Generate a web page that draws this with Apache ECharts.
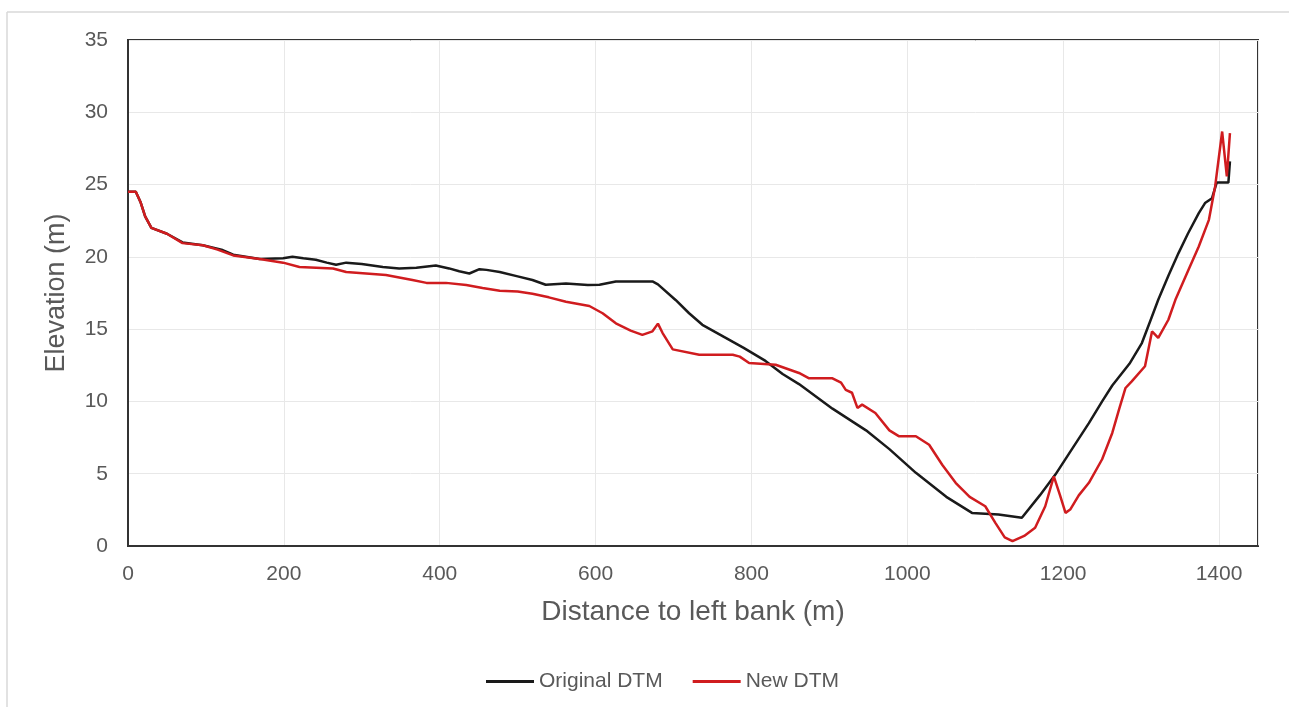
<!DOCTYPE html>
<html>
<head>
<meta charset="utf-8">
<script src="https://cdn.jsdelivr.net/npm/echarts@6/dist/echarts.min.js"></script>
<style>
  html, body { margin: 0; padding: 0; background: #ffffff; }
  #chart { width: 1289px; height: 707px; }
</style>
</head>
<body>
<div id="chart"></div>
<script>
// Cross-section profile: distance to left bank (m) vs elevation (m)
const seriesNames = ['Original DTM', 'New DTM'];

const originalDTM = [
  [0,24.5],[10,24.5],[16,23.8],[22,22.8],[30,22.0],[50,21.6],[70,21.0],[96,20.8],[120,20.5],[135,20.15],
  [169,19.85],[199,19.9],[211,20.0],[225,19.9],[241,19.8],[255,19.6],[267,19.45],[280,19.6],[300,19.5],
  [327,19.3],[348,19.2],[370,19.25],[395,19.4],[412,19.2],[425,19.0],[438,18.85],[451,19.15],[460,19.1],
  [477,18.95],[500,18.65],[519,18.4],[536,18.07],[562,18.15],[590,18.05],[605,18.07],[626,18.3],[650,18.3],
  [673,18.3],[680,18.1],[703,17.0],[720,16.1],[737,15.3],[767,14.4],[790,13.7],[818,12.8],[840,11.9],
  [861,11.2],[904,9.5],[947,8.0],[977,6.7],[1011,5.06],[1050,3.4],[1083,2.29],[1117,2.18],[1147,1.95],
  [1170,3.5],[1190,4.94],[1210,6.6],[1233,8.5],[1250,10.0],[1263,11.1],[1285,12.6],[1301,14.04],
  [1312,15.6],[1322,17.03],[1335,18.7],[1348,20.26],[1360,21.6],[1374,23.03],[1382,23.72],[1391,24.06],
  [1397,25.14],[1412,25.14],[1414,26.6]
];

const newDTM = [
  [0,24.5],[10,24.5],[16,23.8],[22,22.8],[30,22.0],[50,21.6],[70,20.95],[96,20.8],[115,20.5],[135,20.1],
  [169,19.85],[199,19.6],[220,19.3],[263,19.2],[280,18.95],[331,18.75],[365,18.4],[383,18.2],[408,18.2],
  [434,18.05],[455,17.85],[477,17.65],[500,17.6],[519,17.45],[540,17.2],[562,16.9],[592,16.6],[609,16.1],
  [626,15.4],[645,14.9],[660,14.6],[673,14.85],[680,15.38],[686,14.73],[699,13.6],[733,13.23],[776,13.23],
  [785,13.1],[797,12.66],[831,12.54],[861,11.97],[874,11.6],[904,11.6],[915,11.3],[921,10.8],[929,10.6],
  [936,9.55],[942,9.78],[959,9.2],[977,8.0],[989,7.6],[1011,7.59],[1028,7.0],[1045,5.6],[1062,4.37],
  [1080,3.4],[1100,2.75],[1113,1.6],[1125,0.6],[1135,0.33],[1150,0.7],[1164,1.26],[1177,2.75],[1188,4.82],
  [1196,3.5],[1203,2.29],[1209,2.52],[1220,3.5],[1233,4.37],[1250,6.0],[1263,7.82],[1272,9.5],[1280,10.93],
  [1288,11.39],[1305,12.43],[1314,14.84],[1322,14.39],[1335,15.65],[1344,17.03],[1360,19.0],[1374,20.72],
  [1387,22.56],[1395,24.87],[1404,28.67],[1410,25.56],[1414,28.56]
];

const xTicks = [0, 200, 400, 600, 800, 1000, 1200, 1400];
const yTicks = [0, 5, 10, 15, 20, 25, 30, 35];

const chart = echarts.init(document.getElementById('chart'), null, { renderer: 'canvas' });
const textColor = '#595959';
const fontFamily = 'Liberation Sans, Arial, sans-serif';

chart.setOption({
  backgroundColor: '#ffffff',
  animation: false,
  graphic: [
    { type: 'line', shape: { x1: 7, y1: 12, x2: 1289, y2: 12 }, style: { stroke: '#d9d9d9', lineWidth: 1.5 } },
    { type: 'line', shape: { x1: 7, y1: 12, x2: 7, y2: 707 }, style: { stroke: '#d9d9d9', lineWidth: 1.5 } }
  ],
  grid: {
    left: 128, top: 40, right: 31, bottom: 161,
    show: true, borderColor: '#333333', borderWidth: 2, backgroundColor: 'transparent'
  },
  legend: {
    data: seriesNames,
    top: 666,
    left: 481,
    itemWidth: 48,
    itemHeight: 3,
    itemGap: 30,
    icon: 'rect',
    textStyle: { color: textColor, fontSize: 21, fontFamily: fontFamily }
  },
  xAxis: {
    type: 'value',
    min: 0,
    max: 1450,
    interval: 200,
    name: 'Distance to left bank (m)',
    nameLocation: 'middle',
    nameGap: 52,
    nameTextStyle: { color: textColor, fontSize: 28, fontFamily: fontFamily },
    axisLine: { show: true, lineStyle: { color: '#333333', width: 2 } },
    axisTick: { show: false },
    axisLabel: {
      color: textColor, fontSize: 21, fontFamily: fontFamily, margin: 18,
      formatter: v => xTicks.includes(v) ? String(v) : '',
      showMaxLabel: false
    },
    splitLine: { show: true, lineStyle: { color: '#e8e8e8', width: 1 } }
  },
  yAxis: {
    type: 'value',
    min: 0,
    max: 35,
    interval: 5,
    name: 'Elevation (m)',
    nameLocation: 'middle',
    nameGap: 58,
    nameTextStyle: { color: textColor, fontSize: 27, fontFamily: fontFamily },
    axisLine: { show: true, lineStyle: { color: '#333333', width: 2 } },
    axisTick: { show: false },
    axisLabel: {
      color: textColor, fontSize: 21, fontFamily: fontFamily, margin: 20,
      formatter: v => yTicks.includes(v) ? String(v) : ''
    },
    splitLine: { show: true, lineStyle: { color: '#e8e8e8', width: 1 } }
  },
  series: [
    {
      name: seriesNames[0],
      type: 'line',
      data: originalDTM,
      showSymbol: false,
      symbol: 'none',
      lineStyle: { color: '#1a1a1a', width: 2.5 },
      itemStyle: { color: '#1a1a1a' },
      z: 2
    },
    {
      name: seriesNames[1],
      type: 'line',
      data: newDTM,
      showSymbol: false,
      symbol: 'none',
      lineStyle: { color: '#d01c1f', width: 2.5 },
      itemStyle: { color: '#d01c1f' },
      z: 3
    }
  ]
});
</script>
</body>
</html>
